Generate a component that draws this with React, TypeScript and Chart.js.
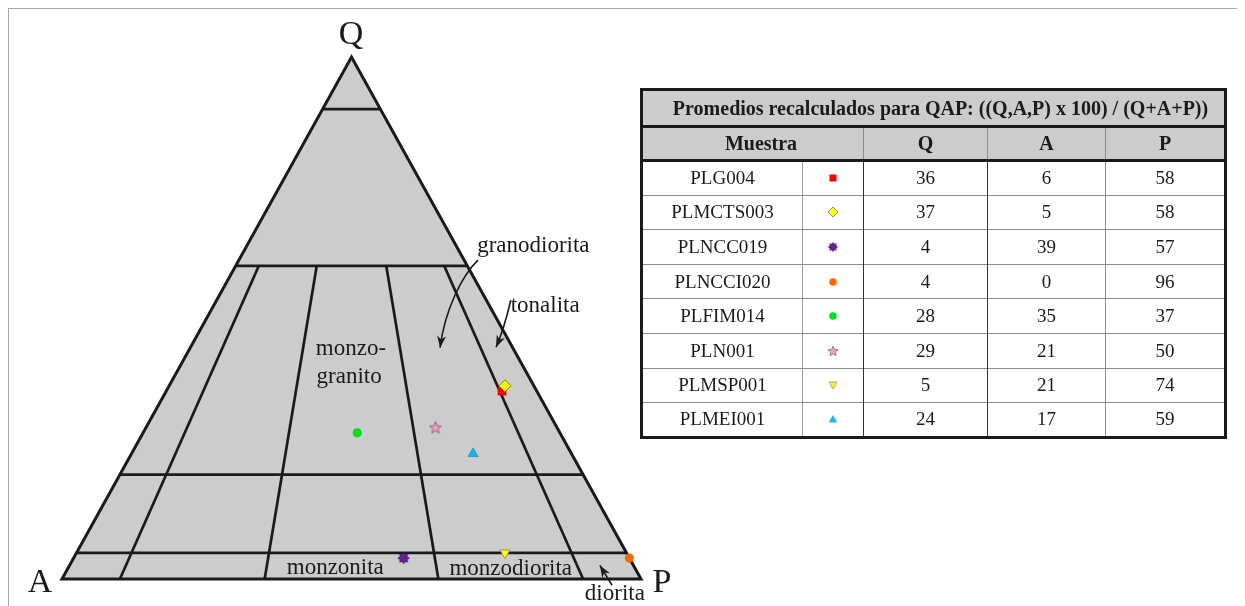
import React, { useEffect, useRef } from "react";
import { Chart, registerables } from "chart.js";

Chart.register(...registerables);

// ---------- data ----------
const samples = ["PLG004", "PLMCTS003", "PLNCC019", "PLNCCI020", "PLFIM014", "PLN001", "PLMSP001", "PLMEI001"];
const qValues = [36, 37, 4, 4, 28, 29, 5, 24];
const aValues = [6, 5, 39, 0, 35, 21, 21, 17];
const pValues = [58, 58, 57, 96, 37, 50, 74, 59];
const markerKinds = ["square", "diamond", "burst", "circle", "circle", "star", "triangleDown", "triangleUp"];
const markerColors = ["#ff0000", "#ffff00", "#6a1b9a", "#ff6a00", "#00e01a", "#f59ac8", "#ffff00", "#18b4ee"];

// QAP field boundaries
const qLevels = [90, 60, 20, 5];
const pRatios = [10, 35, 65, 90]; // P/(A+P) x 100
const ratioTopQ = 60;

const tableTitle = "Promedios recalculados para QAP: ((Q,A,P) x 100) / (Q+A+P))";
const tableHeaders = ["Muestra", "Q", "A", "P"];

const vertexLabels = ["Q", "A", "P"];
const fieldNames = ["monzo-", "granito", "monzonita", "monzodiorita", "granodiorita", "tonalita", "diorita"];

// ---------- helpers ----------
function tern(q: number, a: number, p: number) {
  const s = q + a + p;
  return { x: ((p + q / 2) * 100) / s, y: (q * 100) / s };
}

const SERIF = '"Liberation Serif", "Times New Roman", serif';
const INK = "#1a1a1a";

function starPts(n: number, ro: number, ri: number, cx: number, cy: number) {
  const pts: [number, number][] = [];
  for (let i = 0; i < n * 2; i++) {
    const r = i % 2 === 0 ? ro : ri;
    const ang = -Math.PI / 2 + (i * Math.PI) / n;
    pts.push([cx + r * Math.cos(ang), cy + r * Math.sin(ang)]);
  }
  return pts;
}

function makeImage(kind: string, color: string) {
  const c = document.createElement("canvas");
  c.width = 14;
  c.height = 14;
  const ctx = c.getContext("2d")!;
  const pts = kind === "burst" ? starPts(8, 5.6, 3.6, 7, 7) : starPts(5, 6.2, 2.7, 7, 7.4);
  ctx.beginPath();
  pts.forEach(([x, y], i) => (i ? ctx.lineTo(x, y) : ctx.moveTo(x, y)));
  ctx.closePath();
  ctx.fillStyle = color;
  ctx.fill();
  ctx.lineWidth = 0.9;
  ctx.strokeStyle = kind === "burst" ? "#3e0a5c" : "#8a5a74";
  ctx.stroke();
  return c;
}

// label layout (in ternary-plot units)
const labelLayout = [
  { size: 34, align: "center", x: 49.9, y: 102.4 },
  { size: 34, align: "center", x: -3.8, y: -2.5 },
  { size: 34, align: "center", x: 103.6, y: -2.5 },
];
const fieldLayout = [
  { align: "center", x: 49.9, y: 43.0 },
  { align: "center", x: 49.6, y: 37.6 },
  { align: "center", x: 47.2, y: 1.0 },
  { align: "center", x: 77.5, y: 0.8 },
  { align: "left", x: 71.7, y: 62.6 },
  { align: "left", x: 77.5, y: 51.1 },
  { align: "left", x: 90.3, y: -4.0 },
];
const arrowPaths = [
  [[71.85, 61.1], [69.1, 58.2], [66.1, 51.5], [65.3, 44.3]],
  [[77.5, 53.4], [76.9, 50.5], [76.2, 47.5], [74.96, 44.4]],
  [[95.0, -1.2], [92.9, 2.6]],
];

const labelPlugin = {
  id: "qapLabels",
  afterDatasetsDraw(chart: any) {
    const { ctx } = chart;
    const sx = chart.scales.x;
    const sy = chart.scales.y;
    const X = (v: number) => sx.getPixelForValue(v);
    const Y = (v: number) => sy.getPixelForValue(v);
    ctx.save();
    ctx.fillStyle = INK;
    ctx.textBaseline = "alphabetic";
    vertexLabels.forEach((t, i) => {
      const l = labelLayout[i];
      ctx.font = `${l.size}px ${SERIF}`;
      ctx.textAlign = l.align;
      ctx.fillText(t, X(l.x), Y(l.y));
    });
    ctx.font = `23px ${SERIF}`;
    fieldNames.forEach((t, i) => {
      const l = fieldLayout[i];
      ctx.textAlign = l.align;
      ctx.fillText(t, X(l.x), Y(l.y));
    });
    ctx.strokeStyle = INK;
    ctx.lineWidth = 1.6;
    arrowPaths.forEach((path) => {
      const p = path.map(([a, b]) => [X(a), Y(b)]);
      ctx.beginPath();
      ctx.moveTo(p[0][0], p[0][1]);
      if (p.length === 4) ctx.bezierCurveTo(p[1][0], p[1][1], p[2][0], p[2][1], p[3][0], p[3][1]);
      else ctx.lineTo(p[1][0], p[1][1]);
      ctx.stroke();
      const end = p[p.length - 1];
      const prev = p[p.length - 2];
      const ang = Math.atan2(end[1] - prev[1], end[0] - prev[0]);
      const L = 12, W = 4.5;
      ctx.beginPath();
      ctx.moveTo(end[0], end[1]);
      ctx.lineTo(end[0] - L * Math.cos(ang) + W * Math.sin(ang), end[1] - L * Math.sin(ang) - W * Math.cos(ang));
      ctx.lineTo(end[0] - 0.7 * L * Math.cos(ang), end[1] - 0.7 * L * Math.sin(ang));
      ctx.lineTo(end[0] - L * Math.cos(ang) - W * Math.sin(ang), end[1] - L * Math.sin(ang) + W * Math.cos(ang));
      ctx.closePath();
      ctx.fill();
    });
    ctx.restore();
  },
};

function MarkerIcon({ kind, color }: { kind: string; color: string }) {
  let el: any = null;
  const poly = (pts: [number, number][]) => pts.map((p) => p.join(",")).join(" ");
  switch (kind) {
    case "square":
      el = <rect x={2.5} y={2.5} width={7} height={7} fill={color} />;
      break;
    case "diamond":
      el = <polygon points="6,1 11,6 6,11 1,6" fill={color} stroke="#777" strokeWidth={0.8} />;
      break;
    case "circle":
      el = <circle cx={6} cy={6} r={3.8} fill={color} />;
      break;
    case "burst":
      el = <polygon points={poly(starPts(8, 4.6, 3, 6, 6))} fill={color} stroke="#3e0a5c" strokeWidth={0.6} />;
      break;
    case "star":
      el = <polygon points={poly(starPts(5, 5.4, 2.4, 6, 6.4))} fill={color} stroke="#8a5a74" strokeWidth={0.7} />;
      break;
    case "triangleDown":
      el = <polygon points="2,3 10,3 6,10" fill={color} stroke="#888" strokeWidth={0.7} />;
      break;
    case "triangleUp":
      el = <polygon points="6,2 10.2,9.5 1.8,9.5" fill={color} />;
      break;
  }
  return (
    <svg width={12} height={12} style={{ display: "block", margin: "0 auto" }}>
      {el}
    </svg>
  );
}

export default function App() {
  const canvasRef = useRef<HTMLCanvasElement | null>(null);

  useEffect(() => {
    const canvas = canvasRef.current!;
    const A = tern(0, 100, 0);
    const P = tern(0, 0, 100);
    const Q = tern(100, 0, 0);

    const lineDs = (data: any[], width: number) => ({
      type: "scatter" as const,
      data,
      showLine: true,
      borderColor: INK,
      borderWidth: width,
      pointRadius: 0,
      fill: false,
      clip: false as any,
      borderJoinStyle: "miter" as const,
      order: 5,
    });

    const boundaryDs: any[] = [];
    qLevels.forEach((q) => boundaryDs.push(lineDs([tern(q, 100 - q, 0), tern(q, 0, 100 - q)], 2.7)));
    pRatios.forEach((r) => {
      const rest = 100 - ratioTopQ;
      boundaryDs.push(
        lineDs([tern(0, 100 - r, r), tern(ratioTopQ, (rest * (100 - r)) / 100, (rest * r) / 100)], 2.7)
      );
    });

    const pts = samples.map((_, i) => tern(qValues[i], aValues[i], pValues[i]));
    const styles = markerKinds.map((k, i) => {
      if (k === "square") return "rect";
      if (k === "diamond") return "rectRot";
      if (k === "circle") return "circle";
      if (k === "triangleDown" || k === "triangleUp") return "triangle";
      return makeImage(k, markerColors[i]);
    });
    const radii = markerKinds.map((k) =>
      k === "square" ? 6.2 : k === "diamond" ? 6 : k === "circle" ? 4.6 : k.startsWith("triangle") ? 5.8 : 6
    );
    const rotations = markerKinds.map((k) => (k === "triangleDown" ? 180 : 0));
    const borderColors = markerKinds.map((k, i) =>
      k === "diamond" ? "#707000" : k === "triangleDown" ? "#8a8a30" : k === "triangleUp" ? "#1090c0" : markerColors[i]
    );
    const borderWidths = markerKinds.map((k) => (k === "diamond" || k.startsWith("triangle") ? 0.8 : 0));

    const chart = new Chart(canvas, {
      type: "scatter",
      data: {
        datasets: [
          {
            label: "Muestras",
            data: pts,
            pointStyle: styles as any,
            pointRadius: radii,
            pointRotation: rotations,
            pointBackgroundColor: markerColors,
            pointBorderColor: borderColors,
            pointBorderWidth: borderWidths,
            showLine: false,
            clip: false as any,
            order: 0,
          },
          lineDs([A, P, Q, A, P], 3),
          ...boundaryDs,
          {
            type: "line",
            label: "campo",
            data: [A, Q, P],
            showLine: true,
            borderWidth: 0,
            borderColor: "rgba(0,0,0,0)",
            backgroundColor: "#cccccc",
            pointRadius: 0,
            fill: "origin",
            tension: 0,
            clip: false as any,
            order: 10,
          } as any,
        ],
      },
      options: {
        responsive: false,
        animation: false,
        events: [],
        layout: { padding: { left: 53, right: 68, top: 48, bottom: 27 } },
        scales: {
          x: { type: "linear", min: 0, max: 100, display: false },
          y: { type: "linear", min: 0, max: 100, display: false },
        },
        plugins: { legend: { display: false }, tooltip: { enabled: false } },
      },
      plugins: [labelPlugin],
    });
    return () => chart.destroy();
  }, []);

  const cellBase: any = { padding: 0, textAlign: "center", verticalAlign: "middle", color: INK };
  const rowLine = "1px solid #8c8c8c";

  return (
    <div
      style={{
        position: "relative",
        width: 1237,
        height: 598,
        boxSizing: "border-box",
        borderTop: "1px solid #a8a8a8",
        borderLeft: "1px solid #a8a8a8",
        overflow: "hidden",
      }}
    >
      <canvas
        ref={canvasRef}
        width={700}
        height={597}
        style={{ position: "absolute", left: 0, top: 0, width: 700, height: 597 }}
      />
      <table
        style={{
          position: "absolute",
          left: 631,
          top: 79,
          width: 587,
          height: 349,
          borderCollapse: "collapse",
          tableLayout: "fixed",
          border: "3px solid #1a1a1a",
          fontFamily: SERIF,
          fontSize: 19,
        }}
      >
        <colgroup>
          <col style={{ width: 161 }} />
          <col style={{ width: 61 }} />
          <col style={{ width: 124 }} />
          <col style={{ width: 118 }} />
          <col style={{ width: 120 }} />
        </colgroup>
        <thead>
          <tr style={{ height: 37 }}>
            <th
              colSpan={5}
              style={{
                ...cellBase,
                background: "#cccccc",
                fontSize: 20,
                fontWeight: "bold",
                paddingLeft: 14,
                borderBottom: "3px solid #1a1a1a",
              }}
            >
              {tableTitle}
            </th>
          </tr>
          <tr style={{ height: 34 }}>
            <th
              colSpan={2}
              style={{
                ...cellBase,
                background: "#cccccc",
                fontSize: 20,
                paddingLeft: 16,
                borderBottom: "3px solid #1a1a1a",
                borderRight: "1px solid #8c8c8c",
              }}
            >
              {tableHeaders[0]}
            </th>
            {tableHeaders.slice(1).map((h, i) => (
              <th
                key={h}
                style={{
                  ...cellBase,
                  background: "#cccccc",
                  fontSize: 20,
                  borderBottom: "3px solid #1a1a1a",
                  borderRight: i < 2 ? "1px solid #8c8c8c" : undefined,
                }}
              >
                {h}
              </th>
            ))}
          </tr>
        </thead>
        <tbody>
          {samples.map((s, i) => (
            <tr key={s} style={{ height: 34.6, borderTop: i ? rowLine : undefined }}>
              <td style={{ ...cellBase, borderRight: "1px solid #9a9a9a" }}>{s}</td>
              <td style={{ ...cellBase, borderRight: "1px solid #333" }}>
                <MarkerIcon kind={markerKinds[i]} color={markerColors[i]} />
              </td>
              <td style={{ ...cellBase, borderRight: "1px solid #333" }}>{qValues[i]}</td>
              <td style={{ ...cellBase, borderRight: "1px solid #8c8c8c" }}>{aValues[i]}</td>
              <td style={{ ...cellBase }}>{pValues[i]}</td>
            </tr>
          ))}
        </tbody>
      </table>
    </div>
  );
}
